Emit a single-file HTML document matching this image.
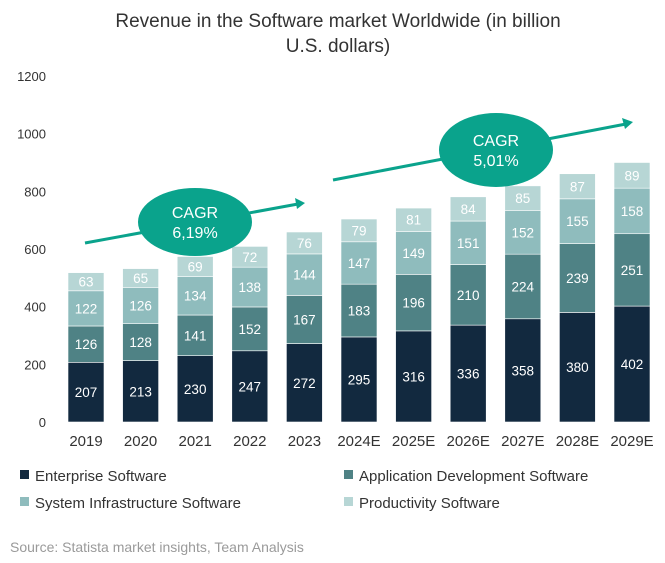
<!DOCTYPE html>
<html><head><meta charset="utf-8"><style>
body{margin:0;background:#fff;width:665px;height:558px;overflow:hidden;font-family:"Liberation Sans",sans-serif}
</style></head><body>
<svg id="c" width="665" height="558" xmlns="http://www.w3.org/2000/svg">
<text x="338" y="27" text-anchor="middle" font-size="19" fill="#333">Revenue in the Software market Worldwide (in billion</text>
<text x="338" y="52" text-anchor="middle" font-size="19" fill="#333">U.S. dollars)</text>
<g id="yaxis"></g><g id="bars"></g><g id="xaxis"></g>
<g>
<line x1="85" y1="243" x2="298" y2="204" stroke="#0aa38c" stroke-width="3"/>
<polygon points="305,203 295,198 297,209" fill="#0aa38c"/>
<ellipse cx="195" cy="222" rx="57" ry="34" fill="#0aa38c"/>
<text x="195" y="218" text-anchor="middle" font-size="16" fill="#fff">CAGR</text>
<text x="195" y="238" text-anchor="middle" font-size="16" fill="#fff">6,19%</text>
</g>
<g>
<line x1="333" y1="180" x2="626" y2="124" stroke="#0aa38c" stroke-width="3"/>
<polygon points="633,122 622,118 625,129" fill="#0aa38c"/>
<ellipse cx="496" cy="150" rx="57" ry="37" fill="#0aa38c"/>
<text x="496" y="146" text-anchor="middle" font-size="16" fill="#fff">CAGR</text>
<text x="496" y="166" text-anchor="middle" font-size="16" fill="#fff">5,01%</text>
</g>
<g id="legend" font-size="15" fill="#333">
<g><rect x="20" y="470" width="9" height="9" fill="#12293f"/><text x="35" y="481">Enterprise Software</text></g>
<g><rect x="344" y="470" width="9" height="9" fill="#4f8285"/><text x="359" y="481">Application Development Software</text></g>
<g><rect x="20" y="497" width="9" height="9" fill="#8fbcbd"/><text x="35" y="508">System Infrastructure Software</text></g>
<g><rect x="344" y="497" width="9" height="9" fill="#b7d6d5"/><text x="359" y="508">Productivity Software</text></g>
</g>
<text x="10" y="552" font-size="14" fill="#9a9a9a">Source: Statista market insights,  Team Analysis</text>
</svg>
<script>
const categories=["2019","2020","2021","2022","2023","2024E","2025E","2026E","2027E","2028E","2029E"];
const enterprise=[207,213,230,247,272,295,316,336,358,380,402];
const appDev=[126,128,141,152,167,183,196,210,224,239,251];
const sysInfra=[122,126,134,138,144,147,149,151,152,155,158];
const productivity=[63,65,69,72,76,79,81,84,85,87,89];
const yTicks=[0,200,400,600,800,1000,1200];
const NS="http://www.w3.org/2000/svg";
const y0=422,scale=346/1200;
const yS=v=>y0-v*scale;
const xS=i=>86+i*54.6;
const bw=36;
function mk(t,a,p){const e=document.createElementNS(NS,t);for(const k in a)e.setAttribute(k,a[k]);p.appendChild(e);return e;}
const ya=document.getElementById('yaxis');
yTicks.forEach(t=>{const e=mk('text',{x:46,y:yS(t)+5,'text-anchor':'end','font-size':13,fill:'#333'},ya);e.textContent=t;

});
const series=[[enterprise,'#12293f'],[appDev,'#4f8285'],[sysInfra,'#8fbcbd'],[productivity,'#b7d6d5']];
const bg=document.getElementById('bars'),xa=document.getElementById('xaxis');
categories.forEach((c,i)=>{let base=0;
series.forEach(([arr,col],s)=>{const v=arr[i];
const r=mk('rect',{x:xS(i)-bw/2,y:yS(base+v),width:bw,height:v*scale,fill:col,stroke:'#fff','stroke-width':0.6},bg);


const t=mk('text',{x:xS(i),y:yS(base+v/2)+5,'text-anchor':'middle','font-size':13.5,fill:'#fff'},bg);t.textContent=v;


base+=v;});
const l=mk('text',{x:xS(i),y:446,'text-anchor':'middle','font-size':15,fill:'#333'},xa);l.textContent=c;


});
</script>
</body></html>
